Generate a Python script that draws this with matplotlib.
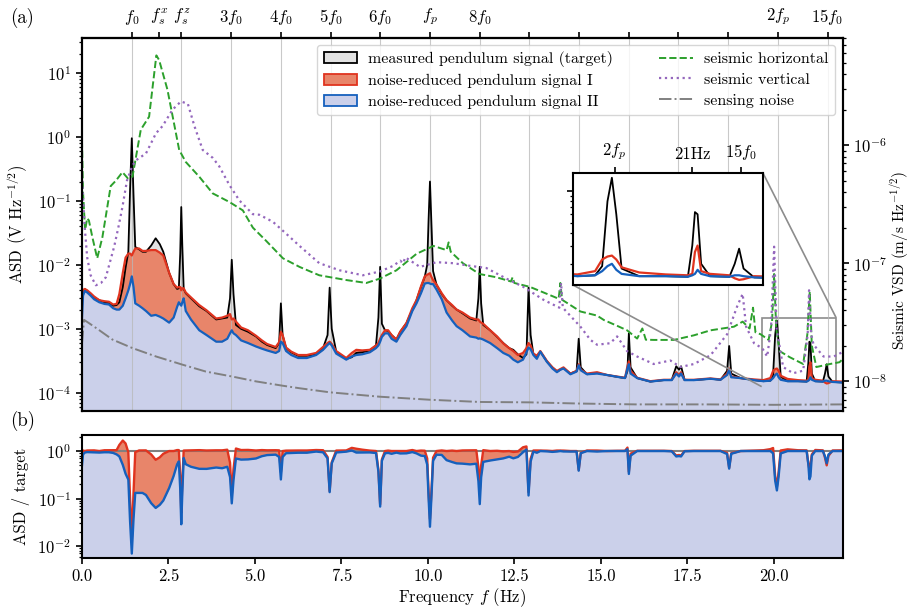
import numpy as np
import matplotlib
matplotlib.use("Agg")
import matplotlib.pyplot as plt
from matplotlib.patches import Patch
from matplotlib.lines import Line2D
from matplotlib.ticker import NullFormatter
from mpl_toolkits.axes_grid1.inset_locator import mark_inset

plt.rcParams.update({
    "font.family": "serif",
    "font.serif": ["cmr10"],
    "mathtext.fontset": "cm",
    "axes.formatter.use_mathtext": True,
    "axes.unicode_minus": False,
    "font.size": 12,
    "axes.linewidth": 1.5,
    "xtick.major.width": 1.2,
    "ytick.major.width": 1.2,
    "xtick.minor.width": 0.9,
    "ytick.minor.width": 0.9,
    "xtick.major.size": 4.5,
    "ytick.major.size": 4.5,
    "xtick.minor.size": 2.5,
    "ytick.minor.size": 2.5,
})

# ---- characteristic frequencies (Hz) ----
f0 = 1.437      # pendulum fundamental
fsx = 2.22      # horizontal seismometer resonance
fsz = 2.874     # vertical seismometer resonance
fp = 10.06      # pendulum mode

# ---- pendulum ASD (V/sqrt(Hz)) on a common frequency grid ----
freq = [0.00, 0.03, 0.08, 0.15, 0.25, 0.35, 0.50, 0.65, 0.78, 0.90, 1.00, 1.08,
        1.18, 1.26, 1.34, 1.39, 1.44, 1.49, 1.54, 1.65, 1.75, 1.85, 2.00, 2.13,
        2.25, 2.35, 2.52, 2.65, 2.75, 2.80, 2.84, 2.87, 2.90, 2.94, 3.00, 3.15,
        3.39, 3.60, 3.88, 4.05, 4.20, 4.28, 4.33, 4.38, 4.45, 4.60, 4.80, 5.03,
        5.20, 5.35, 5.60, 5.70, 5.75, 5.80, 5.90, 6.05, 6.25, 6.50, 6.77, 6.97,
        7.10, 7.16, 7.22, 7.35, 7.64, 7.80, 7.93, 8.10, 8.32, 8.50, 8.57, 8.62,
        8.67, 8.76, 8.85, 8.95, 9.09, 9.20, 9.38, 9.55, 9.67, 9.80, 9.91, 9.98,
        10.02, 10.06, 10.10, 10.15, 10.25, 10.40, 10.54, 10.70, 10.83, 11.00,
        11.22, 11.40, 11.46, 11.50, 11.54, 11.60, 11.80, 12.00, 12.18, 12.35,
        12.47, 12.60, 12.75, 12.85, 12.91, 12.97, 13.05, 13.15, 13.25, 13.44,
        13.60, 13.73, 13.83, 13.92, 14.12, 14.30, 14.36, 14.42, 14.60, 14.89,
        15.18, 15.47, 15.70, 15.77, 15.81, 15.86, 16.05, 16.43, 16.82, 17.05,
        17.18, 17.26, 17.32, 17.42, 17.69, 18.17, 18.46, 18.65, 18.71, 18.77,
        19.04, 19.43, 19.70, 19.90, 19.98, 20.04, 20.09, 20.14, 20.20, 20.40,
        20.70, 20.95, 21.00, 21.03, 21.06, 21.10, 21.20, 21.42, 21.48, 21.53,
        21.58, 21.70, 22.00]

target = [3.0e-3, 3.9e-3, 4.2e-3, 3.9e-3, 3.5e-3, 3.1e-3, 2.8e-3, 2.6e-3, 2.55e-3, 2.3e-3, 2.35e-3, 2.6e-3,
          4.5e-3, 9.0e-3, 1.6e-2, 1.5e-1, 9.5e-1, 1.2e-1, 1.9e-2, 1.75e-2, 1.6e-2, 1.6e-2, 2.0e-2, 2.6e-2,
          2.1e-2, 1.6e-2, 7.5e-3, 5.0e-3, 4.2e-3, 4.3e-3, 1.5e-2, 8.0e-2, 2.0e-2, 4.2e-3, 3.6e-3, 3.0e-3,
          2.25e-3, 1.9e-3, 1.4e-3, 1.45e-3, 1.5e-3, 3.0e-3, 1.2e-2, 3.5e-3, 1.15e-3, 1.0e-3, 9.0e-4, 7.6e-4,
          6.3e-4, 5.6e-4, 5.0e-4, 6.0e-4, 2.5e-3, 8.0e-4, 5.0e-4, 4.3e-4, 3.8e-4, 3.8e-4, 4.0e-4, 5.0e-4,
          8.0e-4, 4.4e-3, 1.0e-3, 4.4e-4, 3.4e-4, 3.6e-4, 4.2e-4, 4.3e-4, 4.6e-4, 5.5e-4, 1.5e-3, 9.3e-3,
          1.2e-3, 9.5e-4, 9.3e-4, 8.0e-4, 6.8e-4, 9.0e-4, 1.23e-3, 2.0e-3, 2.8e-3, 4.5e-3, 6.5e-3, 1.0e-2,
          5.0e-2, 2.0e-1, 5.0e-2, 8.0e-3, 4.9e-3, 3.5e-3, 2.8e-3, 2.3e-3, 2.0e-3, 1.75e-3,
          1.45e-3, 1.35e-3, 3.0e-3, 9.3e-3, 2.5e-3, 1.15e-3, 9.5e-4, 7.5e-4, 6.0e-4, 5.0e-4,
          4.7e-4, 4.0e-4, 3.5e-4, 4.0e-4, 4.4e-3, 8.0e-4, 4.0e-4, 3.7e-4, 4.4e-4, 3.1e-4,
          2.5e-4, 2.15e-4, 2.3e-4, 2.45e-4, 2.0e-4, 2.2e-4, 7.0e-4, 2.5e-4, 1.95e-4, 2.05e-4,
          1.9e-4, 1.78e-4, 1.7e-4, 2.2e-4, 8.5e-4, 2.5e-4, 1.7e-4, 1.5e-4, 1.58e-4, 1.6e-4,
          2.6e-4, 2.3e-4, 2.6e-4, 1.6e-4, 1.58e-4, 1.66e-4, 1.6e-4, 2.2e-4, 5.4e-4, 2.0e-4,
          1.7e-4, 1.58e-4, 1.52e-4, 1.55e-4, 1.9e-4, 8.0e-4, 1.35e-3, 6.0e-4, 1.8e-4, 1.52e-4,
          1.52e-4, 1.5e-4, 3.0e-4, 6.3e-4, 6.0e-4, 2.0e-4, 1.52e-4, 1.5e-4, 2.0e-4, 2.8e-4,
          1.8e-4, 1.48e-4, 1.45e-4]

signal_I = [3.0e-3, 4.0e-3, 4.2e-3, 4.0e-3, 3.6e-3, 3.2e-3, 2.8e-3, 2.7e-3, 2.65e-3, 2.4e-3, 2.45e-3, 3.5e-3,
            7.5e-3, 1.3e-2, 1.5e-2, 1.5e-2, 1.4e-2, 1.6e-2, 1.8e-2, 1.8e-2, 1.65e-2, 1.65e-2, 1.7e-2, 1.7e-2,
            1.55e-2, 1.4e-2, 7.5e-3, 5.0e-3, 4.4e-3, 4.5e-3, 4.5e-3, 4.0e-3, 4.3e-3, 4.3e-3, 3.7e-3, 3.1e-3,
            2.35e-3, 1.95e-3, 1.45e-3, 1.5e-3, 1.6e-3, 1.7e-3, 1.4e-3, 1.45e-3, 1.3e-3, 1.05e-3, 9.5e-4, 7.8e-4,
            6.6e-4, 5.8e-4, 5.2e-4, 6.2e-4, 9.0e-4, 8.0e-4, 5.1e-4, 4.4e-4, 3.9e-4, 3.9e-4, 4.2e-4, 5.2e-4,
            6.0e-4, 6.3e-4, 5.8e-4, 4.5e-4, 3.5e-4, 4.2e-4, 4.7e-4, 4.6e-4, 4.7e-4, 5.5e-4, 6.0e-4, 7.0e-4,
            8.0e-4, 9.5e-4, 9.5e-4, 8.0e-4, 6.8e-4, 9.0e-4, 1.23e-3, 2.1e-3, 2.8e-3, 4.6e-3, 6.6e-3, 7.0e-3,
            7.2e-3, 7.4e-3, 6.5e-3, 5.8e-3, 4.9e-3, 3.6e-3, 2.8e-3, 2.35e-3, 2.0e-3, 1.8e-3,
            1.5e-3, 1.4e-3, 1.4e-3, 1.3e-3, 1.25e-3, 1.2e-3, 9.5e-4, 7.6e-4, 5.9e-4, 5.0e-4,
            4.5e-4, 3.9e-4, 4.2e-4, 5.0e-4, 6.0e-4, 5.5e-4, 4.1e-4, 3.8e-4, 4.5e-4, 3.15e-4,
            2.5e-4, 2.2e-4, 2.35e-4, 2.5e-4, 2.0e-4, 2.2e-4, 2.8e-4, 2.3e-4, 2.0e-4, 2.1e-4,
            1.9e-4, 1.8e-4, 1.72e-4, 2.6e-4, 3.1e-4, 2.2e-4, 1.72e-4, 1.52e-4, 1.6e-4, 1.6e-4,
            2.1e-4, 1.9e-4, 2.1e-4, 1.6e-4, 1.6e-4, 1.68e-4, 1.62e-4, 2.0e-4, 2.4e-4, 1.8e-4,
            1.7e-4, 1.62e-4, 1.58e-4, 1.7e-4, 2.2e-4, 2.35e-4, 2.4e-4, 2.2e-4, 1.85e-4, 1.65e-4,
            1.58e-4, 1.55e-4, 1.6e-4, 2.6e-4, 3.0e-4, 1.7e-4, 1.6e-4, 1.55e-4, 1.45e-4, 1.4e-4,
            1.42e-4, 1.52e-4, 1.5e-4]

signal_II = [1.5e-3, 3.3e-3, 3.9e-3, 3.7e-3, 3.3e-3, 2.9e-3, 2.6e-3, 2.45e-3, 2.4e-3, 2.1e-3, 2.0e-3, 2.0e-3,
             2.3e-3, 3.0e-3, 4.0e-3, 5.0e-3, 6.6e-3, 4.5e-3, 2.5e-3, 2.3e-3, 2.1e-3, 1.9e-3, 1.6e-3, 1.65e-3,
             1.55e-3, 1.45e-3, 1.25e-3, 1.5e-3, 2.2e-3, 2.6e-3, 2.4e-3, 2.3e-3, 2.6e-3, 3.0e-3, 1.9e-3, 1.4e-3,
             9.5e-4, 8.0e-4, 6.3e-4, 6.3e-4, 7.0e-4, 8.5e-4, 9.5e-4, 8.5e-4, 8.0e-4, 6.6e-4, 6.0e-4, 5.3e-4,
             4.9e-4, 4.6e-4, 4.2e-4, 4.5e-4, 6.3e-4, 6.0e-4, 4.5e-4, 3.9e-4, 3.5e-4, 3.5e-4, 3.9e-4, 4.7e-4,
             5.6e-4, 6.0e-4, 5.5e-4, 4.1e-4, 3.3e-4, 3.7e-4, 3.9e-4, 4.0e-4, 4.3e-4, 5.0e-4, 5.5e-4, 6.3e-4,
             7.5e-4, 8.5e-4, 8.5e-4, 7.0e-4, 6.3e-4, 8.0e-4, 1.1e-3, 1.9e-3, 2.5e-3, 3.6e-3, 5.1e-3, 5.2e-3,
             5.2e-3, 5.1e-3, 5.0e-3, 5.0e-3, 4.1e-3, 2.9e-3, 1.8e-3, 1.35e-3, 1.1e-3, 9.5e-4,
             7.6e-4, 7.3e-4, 7.0e-4, 7.1e-4, 7.0e-4, 6.8e-4, 6.0e-4, 5.0e-4, 4.2e-4, 3.8e-4,
             3.3e-4, 3.0e-4, 3.3e-4, 4.3e-4, 5.1e-4, 4.8e-4, 3.9e-4, 3.4e-4, 4.4e-4, 3.05e-4,
             2.4e-4, 2.1e-4, 2.3e-4, 2.4e-4, 1.95e-4, 2.15e-4, 2.7e-4, 2.25e-4, 1.95e-4, 2.0e-4,
             1.9e-4, 1.78e-4, 1.7e-4, 2.4e-4, 2.8e-4, 2.0e-4, 1.7e-4, 1.5e-4, 1.58e-4, 1.58e-4,
             2.0e-4, 1.8e-4, 2.0e-4, 1.58e-4, 1.58e-4, 1.66e-4, 1.6e-4, 1.9e-4, 2.3e-4, 1.75e-4,
             1.7e-4, 1.58e-4, 1.52e-4, 1.55e-4, 1.7e-4, 1.9e-4, 2.0e-4, 1.75e-4, 1.6e-4, 1.52e-4,
             1.52e-4, 1.5e-4, 1.55e-4, 1.6e-4, 1.75e-4, 1.6e-4, 1.52e-4, 1.5e-4, 1.55e-4, 1.55e-4,
             1.52e-4, 1.48e-4, 1.45e-4]

# ---- sensing noise (V/sqrt(Hz)) ----
sens_freq = [0.00, 0.06, 0.20, 0.49, 0.88, 1.46, 2.14, 2.91, 3.58, 4.36, 5.03, 5.81,
             6.29, 7.16, 8.61, 10.06, 11.50, 12.96, 14.40, 16.00, 18.00, 20.00, 22.00]
sens_asd = [6.0e-4, 1.38e-3, 1.23e-3, 9.6e-4, 6.8e-4, 5.0e-4, 3.7e-4, 2.75e-4, 2.15e-4, 1.79e-4,
            1.51e-4, 1.29e-4, 1.18e-4, 1.02e-4, 8.7e-5, 7.8e-5, 7.2e-5, 7.1e-5, 6.8e-5, 6.6e-5,
            6.6e-5, 6.5e-5, 6.6e-5]

# ---- seismic velocity spectral densities (m/s/sqrt(Hz)) ----
horiz_freq = [0.00, 0.03, 0.09, 0.15, 0.20, 0.30, 0.44, 0.59, 0.83, 0.98, 1.17, 1.32, 1.46,
              1.70, 1.94, 2.15, 2.23, 2.47, 2.81, 3.00, 3.39, 3.78, 4.26, 4.65, 4.94, 5.32,
              5.81, 6.29, 6.86, 7.64, 8.22, 8.61, 9.09, 9.67, 10.16, 10.54, 10.60, 10.66,
              11.01, 11.49, 11.98, 12.40, 12.45, 12.50, 12.95, 13.44, 13.78, 13.83, 13.88,
              14.41, 14.89, 15.09, 15.47, 15.76, 16.05, 16.20, 16.30, 16.53, 17.11, 17.69,
              18.17, 18.85, 19.10, 19.30, 19.40, 19.47, 19.62, 19.85, 19.95, 20.01, 20.07,
              20.17, 20.46, 20.85, 20.97, 21.04, 21.10, 21.23, 21.62, 21.90, 22.00]
horiz_vsd = [1.1e-6, 4.0e-7, 1.9e-7, 2.4e-7, 2.3e-7, 1.66e-7, 1.1e-7, 1.66e-7, 4.5e-7, 5.0e-7,
             5.9e-7, 5.25e-7, 5.4e-7, 1.35e-6, 1.74e-6, 5.75e-6, 5.25e-6, 2.95e-6, 9.1e-7, 7.2e-7,
             5.4e-7, 3.9e-7, 3.3e-7, 2.8e-7, 2.0e-7, 1.55e-7, 1.1e-7, 9.3e-8, 7.9e-8, 7.2e-8,
             6.8e-8, 7.4e-8, 8.7e-8, 1.2e-7, 1.4e-7, 1.29e-7, 1.5e-7, 1.25e-7, 1.0e-7, 8.1e-8,
             7.6e-8, 7.0e-8, 7.6e-8, 6.8e-8, 6.3e-8, 5.5e-8, 5.0e-8, 6.8e-8, 4.9e-8, 3.9e-8,
             3.6e-8, 3.3e-8, 2.95e-8, 2.7e-8, 2.3e-8, 2.8e-8, 2.25e-8, 2.24e-8, 2.24e-8, 2.45e-8,
             2.7e-8, 2.9e-8, 3.2e-8, 2.8e-8, 4.2e-8, 2.6e-8, 2.5e-8, 2.24e-8, 3.2e-8, 8.1e-8,
             2.8e-8, 1.8e-8, 1.6e-8, 1.4e-8, 2.5e-8, 5.75e-8, 2.0e-8, 1.32e-8, 1.4e-8, 1.45e-8,
             1.55e-8]

vert_freq = [0.00, 0.04, 0.08, 0.15, 0.25, 0.40, 0.55, 0.69, 0.80, 0.93, 1.05, 1.17, 1.30,
             1.45, 1.55, 1.85, 2.14, 2.33, 2.62, 2.86, 3.06, 3.25, 3.49, 3.78, 3.97, 4.26,
             4.55, 4.94, 5.13, 5.52, 5.90, 6.29, 6.86, 7.45, 8.12, 8.61, 9.00, 9.20, 9.28,
             9.35, 9.77, 10.25, 10.73, 11.22, 11.69, 12.27, 12.76, 13.34, 13.80, 13.85, 13.90,
             14.41, 14.70, 14.89, 15.27, 15.47, 15.76, 16.05, 16.53, 17.01, 17.30, 17.69,
             18.17, 18.65, 18.94, 19.10, 19.20, 19.43, 19.67, 19.81, 19.92, 20.01, 20.08,
             20.27, 20.56, 20.85, 20.98, 21.02, 21.08, 21.15, 21.44, 21.73, 21.88, 22.00]
vert_vsd = [5.6e-7, 3.2e-7, 2.0e-7, 1.12e-7, 7.9e-8, 6.5e-8, 6.8e-8, 7.6e-8, 1.0e-7, 1.38e-7,
            2.0e-7, 3.0e-7, 5.0e-7, 6.6e-7, 7.4e-7, 8.5e-7, 1.26e-6, 1.45e-6, 2.0e-6, 2.34e-6,
            2.24e-6, 1.45e-6, 9.1e-7, 7.8e-7, 6.6e-7, 4.6e-7, 3.4e-7, 2.6e-7, 2.57e-7, 2.24e-7,
            1.78e-7, 1.4e-7, 1.0e-7, 8.7e-8, 7.9e-8, 8.5e-8, 9.5e-8, 1.05e-7, 1.0e-7, 1.12e-7,
            9.3e-8, 1.02e-7, 1.0e-7, 9.5e-8, 9.1e-8, 7.4e-8, 6.3e-8, 4.9e-8, 4.2e-8, 6.8e-8,
            4.2e-8, 2.9e-8, 2.24e-8, 2.04e-8, 2.1e-8, 2.4e-8, 1.8e-8, 1.62e-8, 1.4e-8, 1.5e-8,
            1.32e-8, 1.4e-8, 1.66e-8, 2.5e-8, 4.3e-8, 5.5e-8, 2.9e-8, 2.1e-8, 1.9e-8, 1.62e-8,
            2.8e-8, 1.38e-7, 2.8e-8, 1.32e-8, 1.17e-8, 1.23e-8, 2.5e-8, 5.9e-8, 2.5e-8, 2.04e-8,
            1.62e-8, 1.62e-8, 1.7e-8, 1.78e-8]

# ---- top-axis markers ----
top_ticks = [f0, fsx, fsz, 3 * f0, 4 * f0, 5 * f0, 6 * f0, fp, 8 * f0, 9 * f0, 10 * f0,
             11 * f0, 12 * f0, 13 * f0, 2 * fp, 15 * f0]
top_labels = [r"$f_0$", r"$f_s^x$", r"$f_s^z$", r"$3f_0$", r"$4f_0$", r"$5f_0$", r"$6f_0$",
              r"$f_p$", r"$8f_0$", "", "", "", "", "", r"$2f_p$", r"$15f_0$"]
harmonics = [n * f0 for n in range(1, 16)]
inset_ticks = [2 * fp, 21.0, 15 * f0]
inset_labels = [r"$2f_p$", "21Hz", r"$15f_0$"]

# ---- colours ----
c_black = "black"
c_gray_fill = "#e2e2e2"
c_red = "#e0341f"
c_red_fill = "#e8856a"
c_blue = "#1560bd"
c_blue_fill = "#cbd0ea"
c_green = "#2ca02c"
c_purple = "#9467bd"
c_sens = "#808080"

f = np.array(freq)
T = np.array(target)
S1 = np.array(signal_I)
S2 = np.array(signal_II)

fig = plt.figure(figsize=(9.12, 6.10), dpi=100)
ax = fig.add_axes([0.0899, 0.3262, 0.8344, 0.6115])
axb = fig.add_axes([0.0899, 0.0852, 0.8344, 0.2016])

# ---------------- panel (a) ----------------
floor = 1e-6
ax.fill_between(f, floor, T, color=c_gray_fill, lw=0, zorder=1)
ax.fill_between(f, floor, S1, color=c_red_fill, lw=0, zorder=1.1)
ax.fill_between(f, floor, S2, color=c_blue_fill, lw=0, zorder=1.2)
for h in harmonics:
    ax.axvline(h, color="#b8b8b8", lw=0.8, alpha=0.75, zorder=1.5)
ax.plot(f, T, color=c_black, lw=1.3, zorder=2)
ax.plot(f, S1, color=c_red, lw=1.6, zorder=2.1)
ax.plot(f, S2, color=c_blue, lw=1.6, zorder=2.2)
ax.plot(sens_freq, sens_asd, color=c_sens, lw=1.4, ls="-.", zorder=2.3)

ax.set_xlim(0, 22)
ax.set_yscale("log")
ax.set_ylim(5.2e-5, 35)
ax.tick_params(axis="x", bottom=False, labelbottom=False, top=False)
ax.set_ylabel(r"ASD (V Hz$^{-1/2}$)", fontsize=12)
ax.yaxis.set_label_coords(-0.068, 0.5)
ax.tick_params(axis="y", labelsize=12)

sec = ax.secondary_xaxis("top")
sec.set_xticks(top_ticks, labels=top_labels)
sec.tick_params(axis="x", labelsize=12, length=4.5, width=1.2)

ax2 = ax.twinx()
ax2.plot(horiz_freq, horiz_vsd, color=c_green, lw=1.4, ls="--")
ax2.plot(vert_freq, vert_vsd, color=c_purple, lw=1.6, ls=":")
ax2.set_yscale("log")
ax2.set_ylim(5.6e-9, 8.07e-6)
ax2.set_xlim(0, 22)
ax2.tick_params(axis="y", labelsize=12, pad=3)
ax2.set_ylabel(r"Seismic VSD (m/s Hz$^{-1/2}$)", fontsize=11)
ax2.yaxis.set_label_coords(1.060, 0.405)

handles = [
    Patch(facecolor=c_gray_fill, edgecolor=c_black, lw=1.3),
    Patch(facecolor=c_red_fill, edgecolor=c_red, lw=1.3),
    Patch(facecolor=c_blue_fill, edgecolor=c_blue, lw=1.3),
    Line2D([], [], color=c_green, lw=1.4, ls="--"),
    Line2D([], [], color=c_purple, lw=1.6, ls=":"),
    Line2D([], [], color=c_sens, lw=1.4, ls="-."),
]
labels = ["measured pendulum signal (target)", "noise-reduced pendulum signal I",
          "noise-reduced pendulum signal II", "seismic horizontal", "seismic vertical",
          "sensing noise"]
leg = ax2.legend(handles, labels, ncol=2, loc="upper right", bbox_to_anchor=(0.9895, 0.982),
                 fontsize=11.5, frameon=True, fancybox=True, edgecolor="#cccccc",
                 handlelength=2.1, handletextpad=0.7, columnspacing=2.9,
                 labelspacing=0.42, borderaxespad=0.0)

# inset around the highest-frequency lines
axins = fig.add_axes([0.6283, 0.5328, 0.2083, 0.1836])
axins.plot(f, T, color=c_black, lw=1.3)
axins.plot(f, S1, color=c_red, lw=1.6)
axins.plot(f, S2, color=c_blue, lw=1.6)
axins.set_xlim(19.65, 21.8)
axins.set_yscale("log")
axins.set_ylim(1.25e-4, 1.5e-3)
axins.xaxis.tick_top()
axins.set_xticks(inset_ticks, labels=inset_labels)
axins.tick_params(axis="x", top=True, bottom=False, labeltop=True, labelbottom=False,
                  labelsize=12)
axins.tick_params(axis="y", which="both", left=True, right=False, labelleft=False)
axins.yaxis.set_minor_formatter(NullFormatter())
axins.set_facecolor("white")
mark_inset(ax, axins, loc1=1, loc2=3, fc="none", ec="0.55", lw=1.2)

# ---------------- panel (b) ----------------
ratio_I = S1 / T
ratio_II = S2 / T
bfloor = 1e-4
axb.fill_between(f, bfloor, ratio_I, color=c_red_fill, lw=0, zorder=1)
axb.fill_between(f, bfloor, ratio_II, color=c_blue_fill, lw=0, zorder=1.1)
axb.axhline(1.0, color="0.5", lw=1.5, zorder=1.5)
axb.plot(f, ratio_I, color=c_red, lw=1.7, zorder=2)
axb.plot(f, ratio_II, color=c_blue, lw=1.7, zorder=2.1)
axb.set_yscale("log")
axb.set_ylim(5.6e-3, 2.17)
axb.set_xlim(0, 22)
xt = np.arange(0, 20.1, 2.5)
axb.set_xticks(xt, labels=[f"{v:.1f}" for v in xt])
axb.tick_params(labelsize=12)
axb.set_xlabel(r"Frequency $f$ (Hz)", fontsize=12, labelpad=1)
axb.set_ylabel("ASD / target", fontsize=12)
axb.yaxis.set_label_coords(-0.068, 0.5)

fig.text(0.011, 0.970, "(a)", fontsize=13.5, va="center", ha="left")
fig.text(0.011, 0.310, "(b)", fontsize=13.5, va="center", ha="left")

fig.savefig("out.png", dpi=100)
